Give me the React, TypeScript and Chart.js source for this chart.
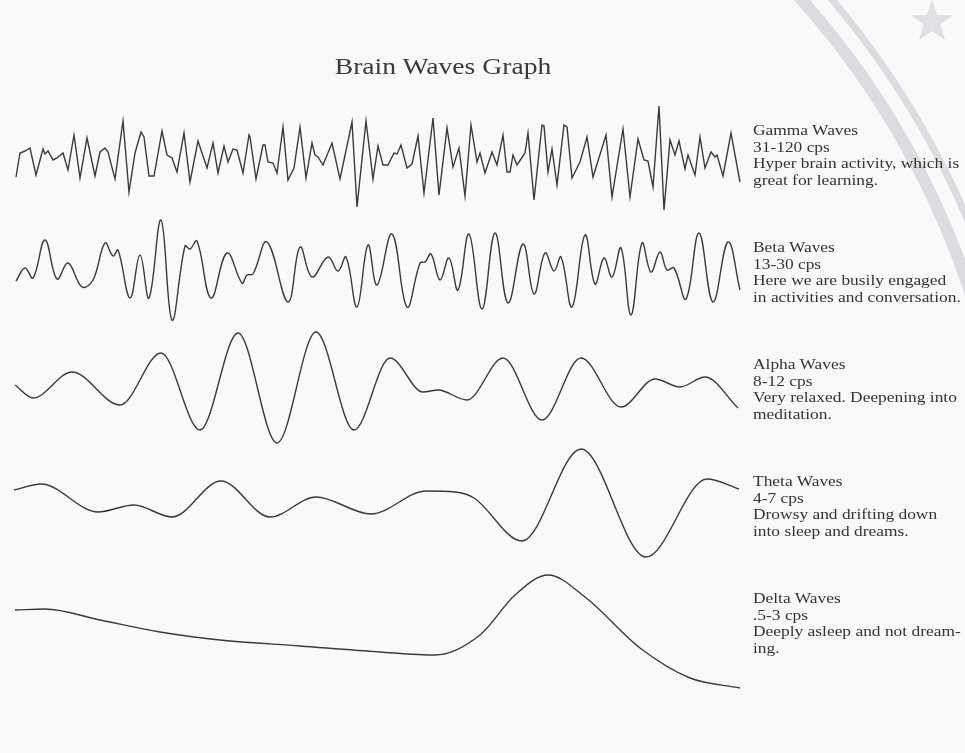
import React, { useEffect, useRef } from "react";
import { Chart, registerables } from "chart.js";

Chart.register(...registerables);

// ---- Data: time (x) and amplitude relative to each wave's own baseline (positive = up)
const gammaT = [16, 20, 25, 30, 36, 43, 45, 48, 53, 57, 63, 68, 74, 80, 87, 95, 100, 105, 108, 115, 123, 129, 135, 141, 144, 149, 154, 162, 167, 172, 177, 184, 190, 198, 207, 213, 218, 224, 228, 233, 237, 243, 249, 250, 256, 263, 265, 268, 273, 277, 283, 288, 294, 300, 306, 312, 315, 318, 323, 332, 340, 352, 357, 366, 373, 378, 383, 388, 394, 397, 401, 407, 412, 418, 424, 433, 439, 447, 453, 459, 465, 471, 477, 480, 485, 492, 497, 503, 507, 510, 513, 517, 525, 528, 534, 542, 544, 548, 552, 557, 564, 567, 572, 580, 587, 593, 606, 612, 623, 630, 638, 644, 648, 653, 659, 664, 670, 675, 679, 685, 688, 695, 700, 705, 711, 715, 717, 723, 731, 740];
const gammaA = [-17, 7, 9, 12, -15, 11, 6, 9, 0, 2, 7, -10, 25, -18, 22, -16, 8, 12, 8, -19, 39, -32, 7, 28, 23, -16, -16, 29, 5, 2, -12, 27, -22, 19, -8, 17, -13, 14, -2, 11, 10, -13, 25, 23, -19, 15, 15, -2, -3, -13, 33, -20, -8, 33, -18, 17, 5, 3, -5, 17, -19, 38, -47, 39, -19, 14, -5, -5, 7, 6, 15, -8, -4, 24, -33, 42, -35, 32, -7, 12, -36, 35, -2, 7, -13, 8, -5, 25, -12, -12, 5, -5, 7, 27, -40, 35, 34, -12, 11, -25, 35, 33, -18, -2, 23, -17, 25, -37, 31, -37, 21, 0, -1, -27, 54, -50, 20, 5, 19, -9, 5, -15, 23, -8, 8, 3, 5, -16, 27, -22];

const betaT = [16, 25, 33, 45, 57, 68, 82, 93, 105, 113, 118, 130, 140, 149, 161, 172, 185, 190, 197, 211, 227, 242, 247, 253, 267, 288, 300, 312, 328, 338, 346, 357, 368, 377, 392, 407, 420, 425, 431, 440, 449, 458, 469, 482, 495, 508, 523, 534, 545, 554, 561, 572, 585, 595, 604, 612, 621, 631, 642, 651, 660, 667, 674, 686, 699, 713, 728, 740];
const betaA = [-9, 4, -6, 32, -7, 9, -15, -8, 29, 16, 22, -26, 17, -26, 52, -48, 26, 23, 31, -26, 19, -11, -3, -2, 30, -30, 25, -5, 15, 1, 15, -35, 27, -13, 38, -35, 9, 10, 18, -8, 14, -18, 38, -37, 39, -31, 28, -22, 19, 1, 15, -35, 37, -12, 14, -5, 24, -43, 29, 0, 20, 2, 4, -27, 39, -30, 30, -18];

const alphaT = [15, 33, 72, 120, 161, 200, 238, 277, 316, 354, 390, 423, 438, 467, 503, 542, 581, 621, 655, 680, 705, 738];
const alphaA = [0, -13, 13, -20, 32, -45, 52, -58, 53, -45, 27, -7, -5, -15, 27, -35, 27, -22, 6, -2, 8, -23];

const thetaT = [14, 41, 98, 134, 172, 221, 270, 316, 371, 426, 455, 474, 522, 581, 646, 707, 739];
const thetaA = [15, 21, -7, 0, -12, 24, -12, 8, -9, 14, 13, 7, -36, 56, -52, 26, 16];

const deltaT = [15, 45, 100, 160, 220, 300, 380, 435, 480, 515, 548, 585, 640, 690, 740];
const deltaA = [20, 21, 10, -2, -10, -16, -22, -25, -5, 35, 55, 33, -18, -48, -58];

const waveNames = ["Gamma Waves", "Beta Waves", "Alpha Waves", "Theta Waves", "Delta Waves"];
const waveRanges = ["31-120 cps", "13-30 cps", "8-12 cps", "4-7 cps", ".5-3 cps"];
const waveNotes = [
  ["Hyper brain activity, which is", "great for learning."],
  ["Here we are busily engaged", "in activities and conversation."],
  ["Very relaxed. Deepening into", "meditation."],
  ["Drowsy and drifting down", "into sleep and dreams."],
  ["Deeply asleep and not dream-", "ing."],
];
const chartTitle = "Brain Waves Graph";

// ---- Layout constants
const W = 965;
const H = 753;
const laneCenters = [160, 272, 385, 505, 630];
const labelTops = [122, 239, 356, 473, 590];
const FONT = '"Liberation Serif", "Times New Roman", serif';
const INK = "#3a3a3a";

const waves = [
  { t: gammaT, a: gammaA, tension: 0, mono: false },
  { t: betaT, a: betaA, tension: 0.4, mono: false },
  { t: alphaT, a: alphaA, tension: 0.4, mono: true },
  { t: thetaT, a: thetaA, tension: 0.4, mono: true },
  { t: deltaT, a: deltaA, tension: 0.4, mono: true },
];

const watermarkPlugin = {
  id: "watermark",
  beforeDatasetsDraw(chart: any) {
    const ctx = chart.ctx as CanvasRenderingContext2D;
    ctx.save();
    ctx.strokeStyle = "rgba(150,150,158,0.3)";
    ctx.lineWidth = 12;
    ctx.beginPath();
    ctx.arc(182, 552, 830, -Math.PI / 2 + 0.6, -0.05);
    ctx.stroke();
    ctx.lineWidth = 7;
    ctx.beginPath();
    ctx.arc(182, 552, 853, -Math.PI / 2 + 0.6, -0.05);
    ctx.stroke();
    // faint star
    ctx.fillStyle = "rgba(150,150,158,0.25)";
    ctx.beginPath();
    const cx = 932, cy = 22, ro = 22, ri = 9;
    for (let i = 0; i < 10; i++) {
      const r = i % 2 === 0 ? ro : ri;
      const ang = -Math.PI / 2 + (i * Math.PI) / 5;
      const px = cx + r * Math.cos(ang);
      const py = cy + r * Math.sin(ang);
      if (i === 0) ctx.moveTo(px, py);
      else ctx.lineTo(px, py);
    }
    ctx.closePath();
    ctx.fill();
    ctx.restore();
  },
};

export default function App() {
  const canvasRef = useRef<HTMLCanvasElement | null>(null);

  useEffect(() => {
    if (!canvasRef.current) return;
    const datasets = waves.map((w, k) => ({
      label: waveNames[k],
      data: w.t.map((x, i) => ({ x, y: H - laneCenters[k] + w.a[i] })),
      borderColor: INK,
      borderWidth: 1.4,
      pointRadius: 0,
      fill: false,
      tension: w.tension,
      cubicInterpolationMode: w.mono ? ("monotone" as const) : ("default" as const),
    }));
    const chart = new Chart(canvasRef.current, {
      type: "line",
      data: { datasets },
      options: {
        responsive: false,
        maintainAspectRatio: false,
        animation: false,
        layout: { padding: 0 },
        scales: {
          x: { type: "linear", min: 0, max: W, display: false },
          y: { type: "linear", min: 0, max: H, display: false },
        },
        plugins: {
          legend: { display: false },
          tooltip: { enabled: false },
          title: { display: false },
        },
      },
      plugins: [watermarkPlugin],
    });
    return () => chart.destroy();
  }, []);

  return (
    <div
      style={{
        position: "fixed",
        left: 0,
        top: 0,
        width: W,
        height: H,
        background: "#f9f9fc",
        overflow: "hidden",
      }}
    >
      <canvas ref={canvasRef} width={W} height={H} style={{ position: "absolute", left: 0, top: 0 }} />
      <div
        style={{
          position: "absolute",
          left: 443,
          top: 55,
          fontFamily: FONT,
          fontSize: 23,
          lineHeight: "23px",
          color: INK,
          whiteSpace: "nowrap",
          transform: "translateX(-50%) scaleX(1.2)",
        }}
      >
        {chartTitle}
      </div>
      {waveNames.map((name, k) => (
        <div
          key={name}
          style={{
            position: "absolute",
            left: 753,
            top: labelTops[k],
            fontFamily: FONT,
            fontSize: 15,
            lineHeight: "16.6px",
            color: "#333",
            whiteSpace: "nowrap",
            transform: "scaleX(1.16)",
            transformOrigin: "left top",
          }}
        >
          <div>{name}</div>
          <div>{waveRanges[k]}</div>
          {waveNotes[k].map((l) => (
            <div key={l}>{l}</div>
          ))}
        </div>
      ))}
    </div>
  );
}
